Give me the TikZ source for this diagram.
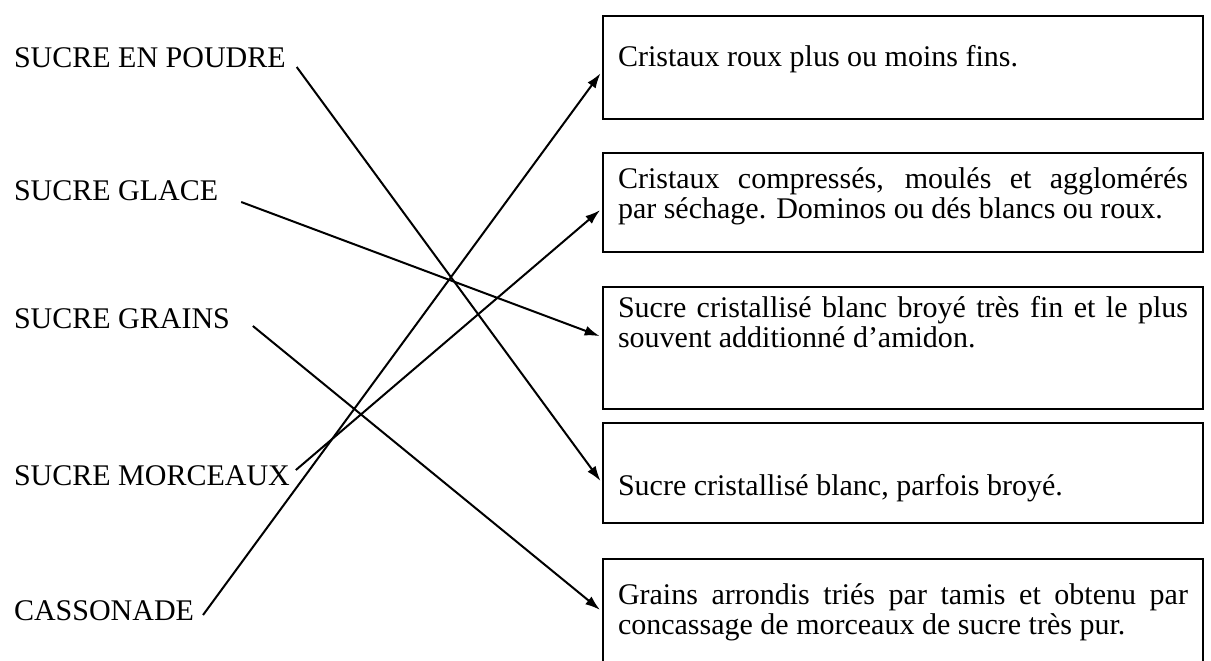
\documentclass[tikz,border=0pt]{standalone}
\usepackage{fontspec}
\setmainfont{Liberation Serif}
\usetikzlibrary{arrows.meta}

\newcommand{\padtext}[3]{\rule{0pt}{#1}#3\rule[-#2]{0pt}{#2}}

\begin{document}
\begin{tikzpicture}[x=0.4pt,y=-0.4pt,>={Latex[length=6pt,width=4pt]},line width=0.8pt,
	sorte/.style={anchor=base west,inner sep=0pt,font=\fontsize{12}{12}\selectfont},
	definition/.style={draw,anchor=north west,text width=228pt,inner xsep=6pt,inner ysep=0pt,align=justify,font=\fontsize{12}{12}\selectfont}]
\useasboundingbox (0,0) rectangle (1211,660);

\node [sorte] (poudre) at (13,67) {SUCRE EN POUDRE};
\node [sorte] (glace) at (13,200) {SUCRE GLACE};
\node [sorte] (grains) at (13,328) {SUCRE GRAINS};
\node [sorte] (morceaux) at (13,485) {SUCRE MORCEAUX};
\node [sorte] (cassonade) at (13,620) {CASSONADE};

\node [definition] (roux) at (602,15) {\padtext{20pt}{21.2pt}{Cristaux roux plus ou moins fins.}};
\node [definition] (domino) at (602,152) {\padtext{14pt}{13.6pt}{Cristaux compressés, moulés et agglomérés\linebreak par séchage. Dominos ou dés blancs ou roux.}};
\node [definition] (glacedef) at (602,286) {\padtext{12pt}{24.8pt}{Sucre cristallisé blanc broyé très fin et le plus\linebreak souvent additionné d’amidon.}};
\node [definition] (blanc) at (602,422) {\padtext{28.8pt}{11.2pt}{Sucre cristallisé blanc, parfois broyé.}};
\node [definition] (grainsdef) at (602,558) {\padtext{18pt}{24pt}{Grains arrondis triés par tamis et obtenu par\linebreak concassage de morceaux de sucre très pur.}};

\draw [->,shorten >=1pt] ([xshift=4pt]poudre.base east) -- ([yshift=-4pt]blanc.west);
\draw [->,shorten >=1pt] ([xshift=8.8pt,yshift=-0.8pt]glace.base east) -- ([yshift=4.4pt]glacedef.west);
\draw [->,shorten >=1pt] ([xshift=8.8pt,yshift=0.8pt]grains.base east) -- ([yshift=6pt]grainsdef.west);
\draw [->,shorten >=1pt] ([xshift=2pt,yshift=6pt]morceaux.base east) -- ([yshift=-2.4pt]domino.west);
\draw [->,shorten >=1pt] ([xshift=3.2pt,yshift=2pt]cassonade.base east) -- ([yshift=-1.5pt]roux.west);
\end{tikzpicture}
\end{document}
